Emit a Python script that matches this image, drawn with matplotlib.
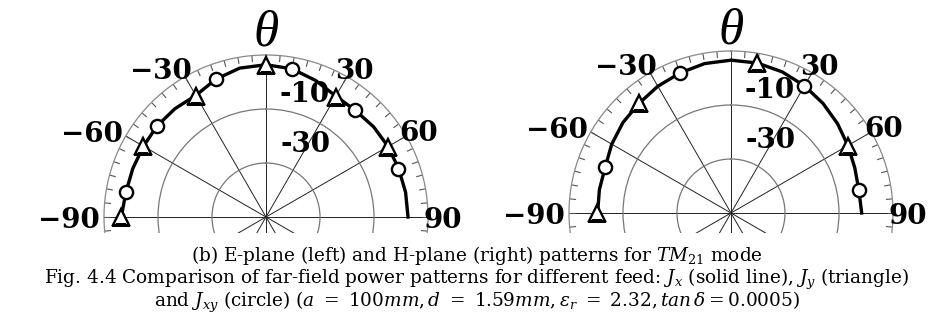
import numpy as np
import matplotlib.pyplot as plt
from matplotlib.patches import Rectangle

plt.rcParams['font.family'] = ['DejaVu Serif']
plt.rcParams['mathtext.fontset'] = 'dejavuserif'

# E-plane (left), power in dB vs theta in degrees
e_theta = [-90, -80, -70, -60, -50, -40, -30, -20, -10, 0, 10, 20, 30, 40, 50, 60, 70, 80, 90]
e_jx = [-6.4, -7.3, -7.5, -7.6, -7.4, -7.6, -8.0, -5.7, -4.0, -3.6, -4.3, -6.2, -8.3, -8.5, -8.0, -7.8, -7.7, -7.5, -7.4]
e_tri_theta = [-90, -60, -30, 0, 30, 60]
e_jy = [-6.3, -7.6, -8.1, -3.6, -8.5, -7.8]
e_circ_theta = [-80, -50, -20, 10, 40, 70]
e_jxy = [-7.4, -7.4, -5.6, -4.4, -8.5, -7.8]

# H-plane (right)
h_theta = [-90, -80, -70, -60, -50, -40, -30, -20, -10, 0, 10, 20, 30, 40, 50, 60, 70, 80, 90]
h_jx = [-10.6, -10.5, -10.4, -9.0, -7.8, -7.0, -5.8, -4.8, -3.8, -3.4, -3.6, -4.4, -5.6, -7.0, -8.5, -10.0, -11.2, -11.9, -11.6]
h_tri_theta = [-90, -40, 10, 60]
h_jy = [-10.4, -7.0, -3.7, -10.0]
h_circ_theta = [-70, -20, 30, 80]
h_jxy = [-10.4, -4.8, -5.6, -11.9]

db_ticks = [-40, -20]
db_labels = ['-10', '-30']
left_angles = ['\u221230', '\u221260', '\u221290']
right_angles = ['30', '60', '90']


def setup(ax):
    ax.set_theta_zero_location('N')
    ax.set_theta_direction(-1)
    ax.set_rlim(-60, 0)
    ax.set_rticks(db_ticks)
    ax.set_yticklabels([])
    ax.set_xticks(np.radians(np.arange(0, 360, 30)))
    ax.set_xticklabels([])
    ax.tick_params(axis='x', length=0)
    ax.xaxis.grid(True, color='#222222', lw=0.7)
    ax.yaxis.grid(True, color='#777777', lw=0.9)
    ax.spines['polar'].set_color('#888888')
    ax.spines['polar'].set_linewidth(0.9)
    # 5 degree ticks on the rim
    ax.vlines(np.radians(np.arange(0, 360, 5)), -2.4, 0, color='#555555', lw=0.8)

    lab = dict(fontsize=20, fontweight='bold', clip_on=False)
    ax.text(np.radians(-26.4), 1.5, left_angles[0], ha='right', va='center_baseline', **lab)
    ax.text(np.radians(-59.0), 1.8, left_angles[1], ha='right', va='center_baseline', **lab)
    ax.text(np.radians(-90.0), 1.5, left_angles[2], ha='right', va='center_baseline', **lab)
    ax.text(np.radians(30.8), 4.1, right_angles[0], ha='center', va='center_baseline', **lab)
    ax.text(np.radians(60.4), 5.0, right_angles[1], ha='center', va='center_baseline', **lab)
    ax.text(np.radians(90.0), 5.5, right_angles[2], ha='center', va='center_baseline', **lab)
    ax.text(np.radians(17), -11.5, db_labels[0], ha='center', va='center_baseline', **lab)
    ax.text(np.radians(28), -28.5, db_labels[1], ha='center', va='center_baseline', **lab)


def draw(ax, th, jx, tth, jy, cth, jxy):
    ax.plot(np.radians(th), jx, color='black', lw=2.4, zorder=3)
    ax.plot(np.radians(tth), jy, ls='none', marker='^', ms=11, mfc='white',
            mec='black', mew=1.7, zorder=4)
    ax.plot(np.radians(cth), jxy, ls='none', marker='o', ms=9.5, mfc='white',
            mec='black', mew=1.7, zorder=4)


fig = plt.figure(figsize=(9.53, 3.2), dpi=100)
W, H = 953, 320
R = 162

ax1 = fig.add_axes([(266 - R) / W, (H - 217 - R) / H, 2 * R / W, 2 * R / H], projection='polar')
ax2 = fig.add_axes([(731 - R) / W, (H - 213 - R) / H, 2 * R / W, 2 * R / H], projection='polar')
for ax in (ax1, ax2):
    setup(ax)
draw(ax1, e_theta, e_jx, e_tri_theta, e_jy, e_circ_theta, e_jxy)
draw(ax2, h_theta, h_jx, h_tri_theta, h_jy, h_circ_theta, h_jxy)

fig.text(266 / W, 1 - 45 / H, '\u03b8', ha='center', va='baseline', fontsize=37,
         style='italic', family='Liberation Serif')
fig.text(731 / W, 1 - 43 / H, '\u03b8', ha='center', va='baseline', fontsize=37,
         style='italic', family='Liberation Serif')

# caption block hides the lower half of the polar plots
fig.add_artist(Rectangle((0, 0), 1, 1 - 233 / H, transform=fig.transFigure,
                         facecolor='white', edgecolor='none', zorder=5))
cap = dict(ha='center', va='baseline', fontsize=13.3, zorder=6)
fig.text(0.5, 1 - 261 / H, '(b) E-plane (left) and H-plane (right) patterns for $TM_{21}$ mode', **cap)
fig.text(0.5, 1 - 284 / H, 'Fig. 4.4 Comparison of far-field power patterns for different feed: '
         '$J_x$ (solid line), $J_y$ (triangle)', **cap)
fig.text(0.5, 1 - 307 / H, 'and $J_{xy}$ (circle) ($a\\ =\\ 100mm, d\\ =\\ 1.59mm, '
         '\\varepsilon_r\\ =\\ 2.32, tan\\,\\delta = 0.0005$)', **cap)

fig.savefig('out.png', dpi=100)
